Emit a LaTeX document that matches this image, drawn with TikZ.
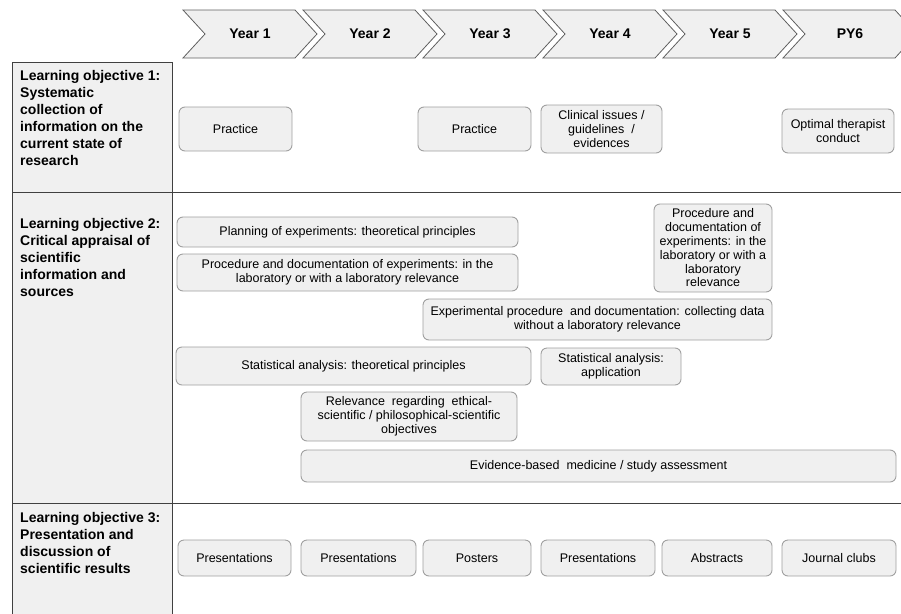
\documentclass[tikz,border=0pt]{standalone}
\usepackage{fontspec}
\setmainfont{Liberation Sans}
\begin{document}
\begin{tikzpicture}[x=1pt,y=-1pt,
  bx/.style={draw=boxline, fill=boxfill, rounded corners=6pt, line width=0.9pt,
    align=center, inner sep=0pt, font=\fontsize{12.5}{13.8}\selectfont},
  lefttxt/.style={anchor=north west, align=left, inner sep=0pt,
    font=\fontsize{14}{17}\selectfont\bfseries},
  chev/.style={draw=chevline, fill=boxfill, line width=0.8pt},
  chevtxt/.style={inner sep=0pt, font=\fontsize{14}{17}\selectfont\bfseries},
  grid/.style={draw=gridline, line width=1pt}]
\definecolor{boxfill}{HTML}{F0F0F0}
\definecolor{boxline}{HTML}{A0A0A0}
\definecolor{chevline}{HTML}{606060}
\definecolor{gridline}{HTML}{404040}
\useasboundingbox (0,0) rectangle (901,613);
\begin{scope}
\clip (0,0) rectangle (901,613);
% chevrons
\foreach \i/\lab in {0/Year 1,1/Year 2,2/Year 3,3/Year 4,4/Year 5,5/PY6}{
  \pgfmathsetmacro{\xo}{183+120*\i}
  \draw[chev] (\xo,10) -- ++(112,0) -- ++(22,24) -- ++(-22,24) -- ++(-112,0) -- ++(22,-24) -- cycle;
  \node[chevtxt] (yr\i) at (\xo+67,34) {\lab};
}
% table
\fill[boxfill] (12,62) rectangle (172,620);
\draw[grid] (12,620) -- (12,62) -- (172,62) -- (172,620);
\draw[grid] (12,192) -- (901,192);
\draw[grid] (12,503) -- (901,503);
\end{scope}
% left labels
\node[lefttxt] (lo1) at (20,70) {Learning objective 1:\\Systematic\\collection of\\information on the\\current state of\\research};
\node[lefttxt] (lo2) at (20,218) {Learning objective 2:\\Critical appraisal of\\scientific\\information and\\sources};
\node[lefttxt] (lo3) at (20,512) {Learning objective 3:\\Presentation and\\discussion of\\scientific results};
% row 1
\node[bx, minimum width=113pt, minimum height=44pt] (a1) at (235.5,129) {Practice};
\node[bx, minimum width=113pt, minimum height=44pt] (a3) at (474.5,129) {Practice};
\node[bx, minimum width=121pt, minimum height=48pt] (a4) at (601.5,129) {Clinical issues /\\guidelines~ /\\evidences};
\node[bx, minimum width=112pt, minimum height=44pt] (a6) at (838,131) {Optimal therapist\\conduct};
% row 2
\node[bx, minimum width=341pt, minimum height=30pt] (b1) at (347.5,232) {Planning of experiments: theoretical principles};
\node[bx, minimum width=341pt, minimum height=37pt] (b2) at (347.5,272.5) {Procedure and documentation of experiments: in the\\laboratory or with a laboratory relevance};
\node[bx, minimum width=118pt, minimum height=88pt] (b3) at (713,248) {Procedure and\\documentation of\\experiments: in the\\laboratory or with a\\laboratory\\relevance};
\node[bx, minimum width=349pt, minimum height=41pt] (b4) at (597.5,319.5) {Experimental procedure~ and documentation: collecting data\\without a laboratory relevance};
\node[bx, minimum width=355pt, minimum height=38pt] (b5) at (353.5,366) {Statistical analysis: theoretical principles};
\node[bx, minimum width=140pt, minimum height=37pt] (b6) at (611,366.5) {Statistical analysis:\\application};
\node[bx, minimum width=216pt, minimum height=49pt] (b7) at (409,416.5) {Relevance~ regarding~ ethical-\\scientific / philosophical-scientific\\objectives};
\node[bx, minimum width=595pt, minimum height=32pt] (b8) at (598.5,466) {Evidence-based~ medicine / study assessment};
% row 3
\node[bx, minimum width=113pt, minimum height=36pt] (c1) at (234.5,558) {Presentations};
\node[bx, minimum width=115pt, minimum height=36pt] (c2) at (358.5,558) {Presentations};
\node[bx, minimum width=108pt, minimum height=36pt] (c3) at (477,558) {Posters};
\node[bx, minimum width=114pt, minimum height=36pt] (c4) at (598,558) {Presentations};
\node[bx, minimum width=110pt, minimum height=36pt] (c5) at (717,558) {Abstracts};
\node[bx, minimum width=114pt, minimum height=36pt] (c6) at (839,558) {Journal clubs};
\end{tikzpicture}
\end{document}
